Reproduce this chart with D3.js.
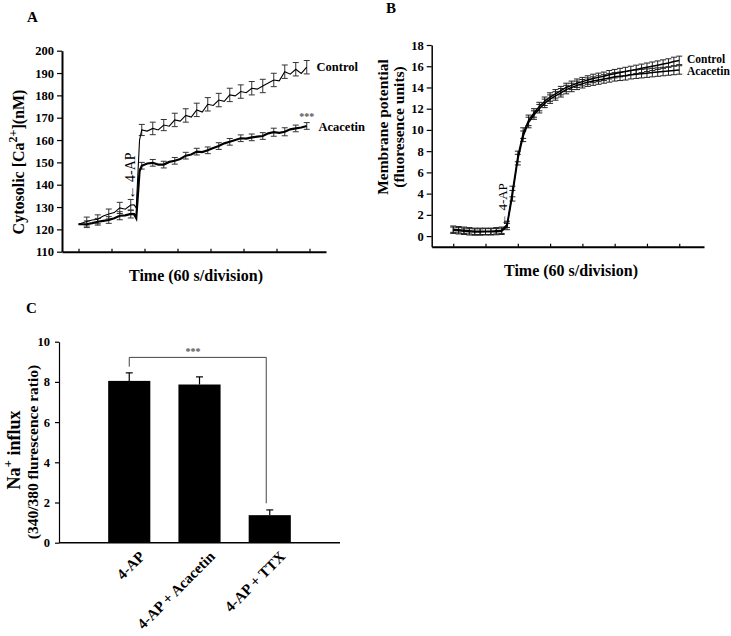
<!DOCTYPE html>
<html><head><meta charset="utf-8">
<script src="https://cdn.jsdelivr.net/npm/d3@7"></script>
<style>
body{margin:0;background:#fff;}
svg text{font-family:"Liberation Serif","Times New Roman",serif;font-weight:bold;fill:#000;}
</style></head><body>
<svg id="c" width="731" height="636"></svg>
<script>
// ---------------- Panel A data (Cytosolic Ca2+, nM) ----------------
const timeA = [30,45,55,65,75,85,95,105,115,125,131,135,141,145,155,165,175,185,195,205,215,225,235,245,255,265,275,285,295,305,315,325,335,345,355,365,375,385,395,405,415,425,435,445];
const controlA = [122.3,123.5,124.2,124.5,126,126.9,127.5,129.6,129,130.9,131,129.5,160,164.5,164,165.2,164.5,166.7,166.2,169,168.5,171,170.3,173.5,172.5,176,175.5,177.9,177.3,180.2,179.8,181.7,181.2,183.2,182.8,184.2,185.5,186.9,186.5,190.6,189.5,191.7,189.8,192.6];
const controlErrA = [null,2,null,2,null,2.2,null,2.5,null,2.5,null,null,null,2.5,null,2.8,null,2.5,null,3,null,3,null,3,null,3,null,3,null,3,null,3,null,3,null,3,null,3,null,3,null,3,null,3];
const acacetinA = [122.3,122.3,122.8,123.4,123.8,124.2,125,126.1,126.3,126.9,126.8,125,146,148.5,149.5,149.8,149,149,150.2,150.7,151.5,153,153.5,154.8,154.6,155.4,156.4,157.3,158.5,159.2,160,160.8,160.6,161.2,161.5,161.8,163,163.5,163.2,163.7,164.8,165.2,165.6,166.3];
const acacetinErrA = [null,1.5,null,1.5,null,1.5,null,1.8,null,1.8,null,null,null,1.5,null,1.5,null,1.5,null,1.5,null,1.5,null,1.5,null,1.5,null,1.5,null,1.5,null,1.5,null,1.5,null,1.5,null,1.8,null,1.8,null,1.5,null,1.5];
const yTicksA = [110,120,130,140,150,160,170,180,190,200];
const xTicksA = [30,90,150,210,270,330,390,450];

// ---------------- Panel B data (membrane potential) ----------------
const timeB = [40,50,60,70,80,90,100,110,120,130,140,150,160,170,180,190,200,210,220,230,240,250,260,270,280,290,300,310,320,330,340,350,360,370,380,390,400,410,420,430,440,450,460];
const controlB = [0.65,0.6,0.55,0.5,0.45,0.45,0.45,0.45,0.5,0.55,1.1,4.2,7.5,9.7,10.9,11.6,12.2,12.7,13.1,13.4,13.7,14.0,14.2,14.4,14.55,14.7,14.85,14.95,15.05,15.2,15.3,15.4,15.5,15.6,15.7,15.8,15.9,16.0,16.1,16.2,16.3,16.45,16.55];
const controlErrB = [0.3,0.3,0.3,0.3,0.3,0.3,0.3,0.3,0.3,0.3,0.3,0.5,0.5,0.5,0.5,0.4,0.4,0.4,0.4,0.4,0.4,0.4,0.4,0.4,0.4,0.4,0.4,0.4,0.4,0.4,0.4,0.4,0.4,0.4,0.4,0.4,0.4,0.4,0.4,0.4,0.4,0.4,0.4];
const acacetinB = [0.55,0.5,0.45,0.4,0.38,0.38,0.4,0.4,0.42,0.45,0.9,3.8,7.2,9.4,10.7,11.4,12.0,12.5,12.9,13.2,13.5,13.8,14.0,14.2,14.35,14.5,14.6,14.7,14.8,14.9,15.0,15.05,15.1,15.2,15.25,15.3,15.35,15.4,15.45,15.5,15.55,15.6,15.65];
const acacetinErrB = [0.3,0.3,0.3,0.3,0.3,0.3,0.3,0.3,0.3,0.3,0.3,0.5,0.5,0.5,0.5,0.4,0.4,0.4,0.4,0.4,0.4,0.4,0.4,0.4,0.4,0.4,0.4,0.4,0.4,0.4,0.4,0.4,0.4,0.4,0.4,0.4,0.4,0.4,0.4,0.4,0.4,0.4,0.4];
const yTicksB = [0,2,4,6,8,10,12,14,16,18];
const xTicksB = [40,100,160,220,280,340,400,460];

// ---------------- Panel C data (Na+ influx) ----------------
const categoriesC = ["4-AP","4-AP + Acacetin","4-AP + TTX"];
const valuesC = [8.05,7.87,1.37];
const errorsC = [0.4,0.38,0.26];
const yTicksC = [0,2,4,6,8,10];

const svg = d3.select("#c");

function errorBars(g, xs, ys, errs, x, y, cap, color){
  const gg = g.append("g").attr("stroke", color).attr("stroke-width", 1).attr("fill","none");
  xs.forEach((t,i)=>{
    const e = errs[i]; if(e==null) return;
    const cx = x(t), y1 = y(ys[i]-e), y2 = y(ys[i]+e);
    gg.append("line").attr("x1",cx).attr("x2",cx).attr("y1",y1).attr("y2",y2);
    gg.append("line").attr("x1",cx-cap).attr("x2",cx+cap).attr("y1",y1).attr("y2",y1);
    gg.append("line").attr("x1",cx-cap).attr("x2",cx+cap).attr("y1",y2).attr("y2",y2);
  });
}
function styleAxis(g, w){
  g.select(".domain").attr("stroke","#000").attr("stroke-width",w);
  g.selectAll(".tick line").attr("stroke","#000").attr("stroke-width",1.2);
  g.selectAll(".tick text").style("font-family",'"Liberation Serif","Times New Roman",serif').style("font-weight","bold").style("font-size","12.5px").attr("fill","#000");
}

// =============== Panel A ===============
{
  const x = d3.scaleLinear().domain([0,480]).range([62,326]);
  const y = d3.scaleLinear().domain([110,200]).range([251.7,50.7]);
  const g = svg.append("g");
  const ya = g.append("g").attr("transform","translate(62,0)")
    .call(d3.axisLeft(y).tickValues(yTicksA).tickSize(5).tickPadding(3).tickSizeOuter(0));
  styleAxis(ya, 2);
  const xa = g.append("g").attr("transform","translate(0,251.7)")
    .call(d3.axisBottom(x).tickValues(xTicksA).tickSize(-3).tickFormat("").tickSizeOuter(0));
  styleAxis(xa, 2);
  const line = d3.line().x((d,i)=>x(timeA[i])).y(d=>y(d));
  errorBars(g, timeA, controlA, controlErrA, x, y, 3, "#333");
  errorBars(g, timeA, acacetinA, acacetinErrA, x, y, 3, "#333");
  g.append("path").attr("d", line(controlA)).attr("fill","none").attr("stroke","#000").attr("stroke-width",1.1);
  g.append("path").attr("d", line(acacetinA)).attr("fill","none").attr("stroke","#000").attr("stroke-width",2.2);
  g.append("text").attr("x",x(450)+7).attr("y",y(controlA[controlA.length-1])+4).style("font-size","12.5px").text("Control");
  g.append("text").attr("x",x(450)+9).attr("y",y(acacetinA[acacetinA.length-1])+5).style("font-size","12.5px").text("Acacetin");
  g.append("text").attr("x",x(445)).attr("y",y(166.3)-6).attr("text-anchor","middle").style("font-size","10px").style("fill","#555").text("***");
  g.append("text").attr("transform",`translate(${x(124)},176) rotate(-90)`).attr("text-anchor","middle").attr("dominant-baseline","central").style("font-size","14px").style("font-weight","normal").text("\u2190 4-AP");
  g.append("text").attr("x",196).attr("y",281).attr("text-anchor","middle").style("font-size","16px").text("Time (60 s/division)");
  const t = g.append("text").attr("transform","translate(24,162) rotate(-90)").attr("text-anchor","middle").style("font-size","16px");
  t.append("tspan").text("Cytosolic [Ca");
  t.append("tspan").attr("dy",-7).style("font-size","12px").text("2+");
  t.append("tspan").attr("dy",7).text("](nM)");
  g.append("text").attr("x",27).attr("y",22).style("font-size","15px").text("A");
}

// =============== Panel B ===============
{
  const x = d3.scaleLinear().domain([0,506]).range([431.7,704]);
  const y = d3.scaleLinear().domain([-1,18]).range([246.7,45]);
  const g = svg.append("g");
  const ya = g.append("g").attr("transform","translate(431.7,0)")
    .call(d3.axisLeft(y).tickValues(yTicksB).tickSize(5).tickPadding(3).tickSizeOuter(0));
  styleAxis(ya, 1.5);
  const xa = g.append("g").attr("transform","translate(0,246.7)")
    .call(d3.axisBottom(x).tickValues(xTicksB).tickSize(-3).tickFormat("").tickSizeOuter(0));
  styleAxis(xa, 2);
  const line = d3.line().x((d,i)=>x(timeB[i])).y(d=>y(d));
  errorBars(g, timeB, controlB, controlErrB, x, y, 3, "#222");
  errorBars(g, timeB, acacetinB, acacetinErrB, x, y, 3, "#222");
  g.append("path").attr("d", line(controlB)).attr("fill","none").attr("stroke","#000").attr("stroke-width",1.5);
  g.append("path").attr("d", line(acacetinB)).attr("fill","none").attr("stroke","#000").attr("stroke-width",1.5);
  g.append("text").attr("x",687).attr("y",63).style("font-size","11.5px").text("Control");
  g.append("text").attr("x",687).attr("y",75).style("font-size","11.5px").text("Acacetin");
  g.append("text").attr("transform",`translate(502,205) rotate(-90)`).attr("text-anchor","middle").attr("dominant-baseline","central").style("font-size","13px").style("font-weight","normal").text("\u2190 4-AP");
  g.append("text").attr("x",571).attr("y",276).attr("text-anchor","middle").style("font-size","16px").text("Time (60 s/division)");
  g.append("text").attr("transform","translate(388,127) rotate(-90)").attr("text-anchor","middle").style("font-size","15.5px").text("Membrane potential");
  g.append("text").attr("transform","translate(404,127) rotate(-90)").attr("text-anchor","middle").style("font-size","15.5px").text("(fluoresence units)");
  g.append("text").attr("x",386).attr("y",13).style("font-size","15px").text("B");
}

// =============== Panel C ===============
{
  const x = d3.scaleLinear().domain([0,4]).range([59,340]);
  const y = d3.scaleLinear().domain([0,10]).range([542.7,341.7]);
  const g = svg.append("g");
  const ya = g.append("g").attr("transform","translate(59,0)")
    .call(d3.axisLeft(y).tickValues(yTicksC).tickSize(4).tickPadding(5).tickSizeOuter(0));
  styleAxis(ya, 1.2);
  g.append("line").attr("x1",x(0)).attr("x2",x(4)).attr("y1",y(0)).attr("y2",y(0)).attr("stroke","#000").attr("stroke-width",1.5);
  const bw = 0.6;
  categoriesC.forEach((c,i)=>{
    const cx = i+1;
    g.append("rect").attr("x",x(cx-bw/2)).attr("width",x(cx+bw/2)-x(cx-bw/2))
      .attr("y",y(valuesC[i])).attr("height",y(0)-y(valuesC[i])).attr("fill","#000");
    const px = x(cx), top = y(valuesC[i]+errorsC[i]);
    g.append("line").attr("x1",px).attr("x2",px).attr("y1",y(valuesC[i])).attr("y2",top).attr("stroke","#000").attr("stroke-width",1.2);
    g.append("line").attr("x1",px-3.5).attr("x2",px+3.5).attr("y1",top).attr("y2",top).attr("stroke","#000").attr("stroke-width",1.2);
    g.append("text").attr("transform",`translate(${px+9},550) rotate(-45)`).attr("text-anchor","end").attr("dy","0.7em").style("font-size","15px").text(c);
  });
  // significance bracket
  const bx1 = x(1), bx2 = x(2.95);
  g.append("path").attr("d",`M${bx1},${y(8.76)}V${y(9.22)}H${bx2}V${y(1.96)}`).attr("fill","none").attr("stroke","#444").attr("stroke-width",1);
  g.append("text").attr("x",193).attr("y",355).attr("text-anchor","middle").style("font-size","10px").style("fill","#555").text("***");
  const t1 = g.append("text").attr("transform","translate(20,450) rotate(-90)").attr("text-anchor","middle").style("font-size","18px");
  t1.append("tspan").text("Na");
  t1.append("tspan").attr("dy",-8).style("font-size","13px").text("+");
  t1.append("tspan").attr("dy",8).text(" influx");
  g.append("text").attr("transform","translate(38,452) rotate(-90)").attr("text-anchor","middle").style("font-size","15.5px").text("(340/380 flurescence ratio)");
  g.append("text").attr("x",26).attr("y",313).style("font-size","15px").text("C");
}
</script>
</body></html>
